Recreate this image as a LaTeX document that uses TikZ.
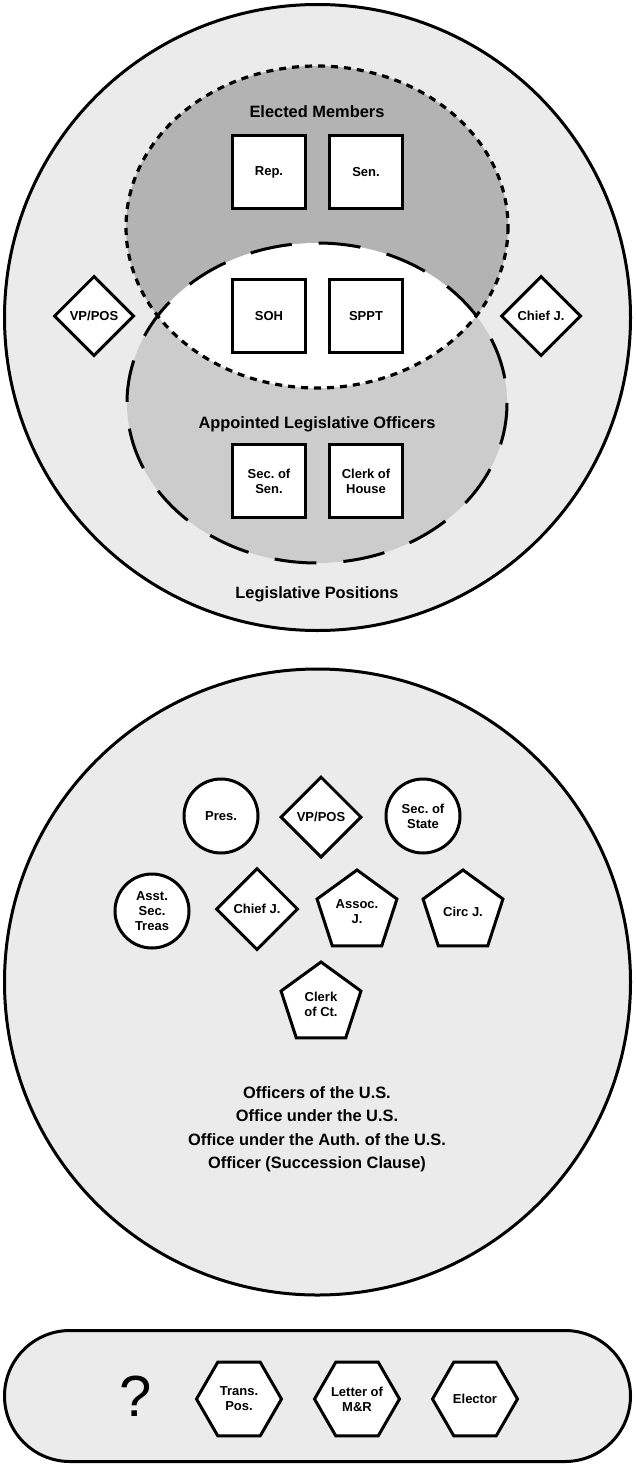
\documentclass[tikz,border=0pt]{standalone}
\usepackage{fontspec}
\setmainfont{Liberation Sans}
\usetikzlibrary{shapes.geometric}
\frenchspacing
\definecolor{outerfill}{HTML}{EBEBEB}
\definecolor{electfill}{HTML}{B3B3B3}
\definecolor{apptfill}{HTML}{CCCCCC}
\tikzset{
  shp/.style={draw=black, line width=3pt, fill=white, align=center, inner sep=1pt,
    font=\bfseries\fontsize{13}{15}\selectfont},
  sq/.style={shp, rectangle, minimum width=73pt, minimum height=73pt},
  dia/.style={shp, diamond, minimum width=80pt, minimum height=80pt, inner sep=0pt},
  circ/.style={shp, circle, minimum size=74pt, inner sep=0pt},
  pent/.style={shp, regular polygon, regular polygon sides=5, minimum size=84pt, inner sep=0pt},
  hexa/.style={shp, regular polygon, regular polygon sides=6, minimum size=85pt, inner sep=0pt},
  biglabel/.style={font=\bfseries\fontsize{16.4}{23.5}\selectfont, align=center, inner sep=0pt},
  outline/.style={draw=black, line width=3pt},
}
\begin{document}
\begin{tikzpicture}[x=1pt,y=-1pt]
\useasboundingbox (0,0) rectangle (635,1466);
% ---------- top circle ----------
\draw[outline, fill=outerfill] (317.5,317.5) circle[radius=313];
\fill[apptfill] (317,403) ellipse[x radius=190, y radius=160];
\fill[electfill] (317,227) ellipse[x radius=191, y radius=161];
\begin{scope}
  \clip (317,403) ellipse[x radius=190, y radius=160];
  \fill[white] (317,227) ellipse[x radius=191, y radius=161];
\end{scope}
\draw[line width=3pt, dash pattern=on 42pt off 27pt] (317,403) ellipse[x radius=190, y radius=160];
\draw[line width=3.2pt, dash pattern=on 7pt off 6pt] (317,227) ellipse[x radius=191, y radius=161];

\node[biglabel] (elected) at (317,112) {Elected Members};
\node[biglabel] (appointed) at (317,424) {Appointed Legislative Officers};
\node[biglabel] (legis) at (317,594) {Legislative Positions};

\node[sq] (rep) at (269,172) {Rep.};
\node[sq] (sen) at (366,172) {Sen.};
\node[sq] (soh) at (269,316) {SOH};
\node[sq] (sppt) at (366,316) {SPPT};
\node[sq] (secsen) at (269,481) {Sec. of\\Sen.};
\node[sq] (clerkh) at (366,481) {Clerk of\\House};
\node[dia] (vp1) at (94,316) {VP/POS};
\node[dia] (cj1) at (541,316) {Chief J.};

% ---------- middle circle ----------
\draw[outline, fill=outerfill] (317.5,982) circle[radius=313];
\node[circ] (pres) at (221,816) {Pres.};
\node[dia, minimum width=81pt, minimum height=81pt] (vp2) at (321,817) {VP/POS};
\node[circ] (sos) at (423,816) {Sec. of\\State};
\node[circ] (asst) at (152,911) {Asst.\\Sec.\\Treas};
\node[dia, minimum width=82pt, minimum height=82pt] (cj2) at (257,909) {Chief J.};
\node[pent] (assoc) at (357,912) {Assoc.\\J.};
\node[pent] (circj) at (463,912) {Circ J.};
\node[pent] (clerkct) at (321,1004) {Clerk\\of Ct.};
\node[biglabel] (officers) at (317,1129) {Officers of the U.S.\\Office under the U.S.\\Office under the Auth. of the U.S.\\Officer (Succession Clause)};

% ---------- bottom stadium ----------
\draw[outline, fill=outerfill, rounded corners=65.5pt] (4.5,1330.5) rectangle (630.5,1461.5);
\node[font=\fontsize{58}{58}\selectfont, inner sep=0pt] (q) at (136,1396) {?};
\node[hexa] (trans) at (239,1399) {Trans.\\Pos.};
\node[hexa] (letter) at (357,1399) {Letter of\\M\&R};
\node[hexa] (elector) at (475,1399) {Elector};
\end{tikzpicture}
\end{document}
